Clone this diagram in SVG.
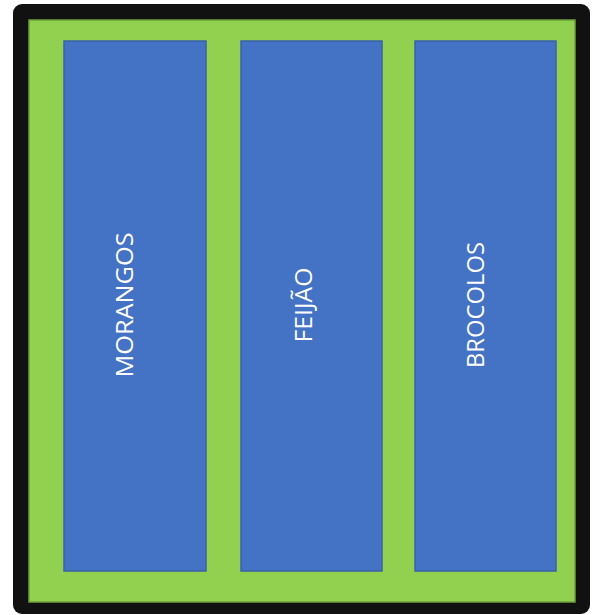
<svg xmlns="http://www.w3.org/2000/svg" width="595" height="615" viewBox="0 0 595 615">
  <style>
    .bed { fill: #4472c4; stroke: #3a62a8; stroke-width: 1.5; }
    .label { font-family: "Open Sans", "Liberation Sans", Arial, sans-serif; font-size: 23px; fill: #ffffff; text-anchor: middle; }
  </style>
  <rect width="595" height="615" fill="#ffffff"/>
  <!-- outer frame: black border around the green path area -->
  <g id="frame">
    <rect x="13" y="4" width="577" height="610" rx="9" fill="#111111"/>
    <rect x="29" y="20" width="546" height="582" fill="#92d050" stroke="#6f9e3c" stroke-width="1.5"/>
  </g>
  <g id="bed-morangos">
    <rect class="bed" x="64" y="41" width="142" height="530"/>
    <text class="label" transform="translate(133 305) rotate(-90)" textLength="145" lengthAdjust="spacingAndGlyphs">MORANGOS</text>
  </g>
  <g id="bed-feijao">
    <rect class="bed" x="241" y="41" width="141" height="530"/>
    <text class="label" transform="translate(312 305) rotate(-90)" textLength="75" lengthAdjust="spacingAndGlyphs">FEIJÃO</text>
  </g>
  <g id="bed-brocolos">
    <rect class="bed" x="415" y="41" width="141" height="530"/>
    <text class="label" transform="translate(484 305) rotate(-90)" textLength="126" lengthAdjust="spacingAndGlyphs">BROCOLOS</text>
  </g>
</svg>
